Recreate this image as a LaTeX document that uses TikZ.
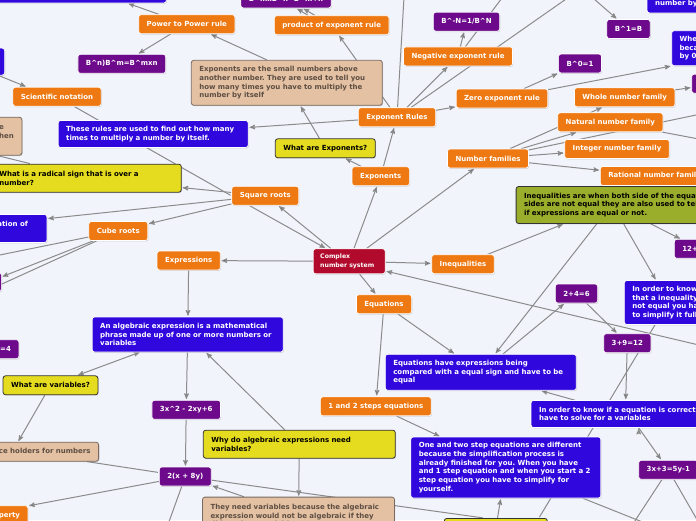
\documentclass[tikz,border=0pt]{standalone}
\usepackage{fontspec}
\setmainfont{DejaVu Sans}
\usetikzlibrary{arrows,shadows}
\definecolor{mapbg}{HTML}{F2F4FC}
\definecolor{maporange}{HTML}{EE7811}
\definecolor{mapred}{HTML}{B10A2C}
\definecolor{mappurple}{HTML}{6C0A8B}
\definecolor{mapblue}{HTML}{3008DD}
\definecolor{mapyellow}{HTML}{E5DC1F}
\definecolor{mapgreen}{HTML}{9BAE2B}
\definecolor{maptan}{HTML}{E3C1A2}
\definecolor{maptanline}{HTML}{786A60}
\definecolor{maptantext}{HTML}{5E4E43}
\definecolor{mapdark}{HTML}{333333}
\definecolor{maplink}{HTML}{8B8B8B}
\newcommand{\pwr}{\textasciicircum}
\frenchspacing
\pgfdeclarelayer{bg}
\pgfdeclarelayer{links}
\pgfsetlayers{bg,links,main}

\begin{document}
\begin{tikzpicture}[x=1pt,y=-1pt,>=stealth',shorten >=1pt,
    topic/.style={rounded corners=2.5pt,font=\bfseries\fontsize{7}{8.7}\selectfont,inner xsep=8pt,inner ysep=2pt,minimum height=19pt,
        drop shadow={shadow xshift=.7pt,shadow yshift=-.9pt,opacity=.3}},
    sub/.style={topic,fill=maporange,draw=white,line width=.7pt,text=white},
    formula/.style={topic,fill=mappurple,draw=white,line width=.7pt,text=white},
    note/.style={topic,fill=mapblue,draw=white,line width=.7pt,text=white,align=left},
    ask/.style={topic,fill=mapyellow,draw=mapdark,line width=.8pt,text=black,align=left},
    memo/.style={topic,fill=maptan,draw=maptanline,line width=.8pt,text=maptantext,align=left},
    link/.style={draw=maplink,line width=1pt,->}]

    \begin{pgfonlayer}{bg}
        \fill[mapbg] (0,0) rectangle (696,520);
    \end{pgfonlayer}
    \useasboundingbox (0,0) rectangle (696,520);

    \node[topic,fill=mapred,draw=white,line width=.7pt,text=white,font=\bfseries\fontsize{6.2}{8.2}\selectfont,
        align=left,text width=58pt,inner xsep=7pt,minimum height=25pt] (complex) at (349.2,261.3) {Complex\\number system};

    \node[sub] (expo) at (380.7,176.2) {Exponents};
    \node[ask] (whatexp) at (325.3,148.3) {What are Exponents?};
    \node[memo,text width=175pt,minimum height=45pt] (expmeaning) at (286.8,82.8) {Exponents are the small numbers above\\another number. They are used to tell you\\how many times you have to multiply the\\number by itself};
    \node[sub] (rules) at (397,117.3) {Exponent Rules};
    \node[note,text width=174pt,minimum height=27pt] (rulesuse) at (153.2,134) {These rules are used to find out how many\\times to multiply a number by itself.};
    \node[sub] (product) at (331.7,25.2) {product of exponent rule};
    \node[formula,anchor=south] (productrule) at (286,8.3) {B\pwr mxB\pwr n=B\pwr m+n};
    \node[sub,anchor=west] (powerpower) at (138.3,24.2) {Power to Power rule};
    \node[formula] (powerrule) at (121.8,63.8) {B\pwr n)B\pwr m=B\pwr mxn};
    \node[note,anchor=south east,minimum width=185pt,minimum height=27pt] (topnote) at (166.7,3.3) {};
    \node[note,anchor=east,minimum width=60pt,minimum height=27pt] (leftnote) at (5,61.6) {};
    \node[sub] (scinote) at (57,96.7) {Scientific notation};
    \node[sub] (negative) at (458,56.4) {Negative exponent rule};
    \node[formula] (negrule) at (466.5,21.7) {B\pwr -N=1/B\pwr N};
    \node[formula] (onerule) at (628.5,29) {B\pwr 1=B};
    \node[sub] (zero) at (502,98.5) {Zero exponent rule};
    \node[formula] (zerorule) at (580,63.5) {B\pwr 0=1};
    \node[note,anchor=west,text width=170pt,minimum height=35pt] (zeronote) at (671.3,48.2) {When a number has a 0 exponent it is 1\\because it is divided by itself, not\\by 0};
    \node[note,anchor=south west,text width=150pt,minimum height=27pt] (bynote) at (646.7,13.3) {An exponent tells you to multiply a\\number by itself};

    \node[sub] (families) at (488,158.5) {Number families};
    \node[sub] (whole) at (624.7,97.3) {Whole number family};
    \node[sub] (natural) at (610.3,122.3) {Natural number family};
    \node[sub] (integer) at (617,149) {Integer number family};
    \node[sub,anchor=west] (rational) at (600,176) {Rational number family};
    \node[formula,anchor=west] (wholeset) at (691.3,83.7) {0,1,2,3...};

    \node[sub] (sqroots) at (265.3,195.8) {Square roots};
    \node[ask,anchor=east,text width=174pt,minimum height=28pt] (radical) at (181.7,178.2) {What is a radical sign that is over a\\number?};
    \node[memo,anchor=east,align=right,minimum height=38pt] (radicalmeaning) at (22.3,136.2) {A radical sign shows that you take the square\hspace*{10pt}\\root of the number under it. It is used when\hspace*{6pt}\\you see a root.\hspace*{60pt}};
    \node[note,anchor=east,minimum height=28pt] (cubemeaning) at (47.3,228.5) {The cube root is the inverse operation of\hspace*{11pt}\\cubing.};
    \node[sub] (cube) at (118.3,231) {Cube roots};
    \node[formula,anchor=east] (cubeex) at (1.7,282) {27};

    \node[sub] (expr) at (188.7,260.5) {Expressions};
    \node[note,text width=175pt,minimum height=35pt] (algebraic) at (187.7,334.5) {An algebraic expression is a mathematical\\phrase made up of one or more numbers or\\variables};
    \node[ask] (whatvars) at (50.5,385.3) {What are variables?};
    \node[memo,anchor=east] (holders) at (99,451.7) {Variables are place holders for numbers};
    \node[formula] (trinomial) at (186.2,409.8) {3x\pwr 2 - 2xy+6};
    \node[formula] (factored) at (185.3,476.5) {2(x + 8y)};
    \node[ask,text width=176pt,minimum height=28pt] (whyvars) at (299.3,444.2) {Why do algebraic expressions need\\variables?};
    \node[memo,anchor=north,text width=176pt,minimum height=37pt] (needvars) at (298.5,496.7) {They need variables because the algebraic\\expression would not be algebraic if they\\did not have variables.};
    \node[sub,anchor=north east] (distributive) at (28.3,505.3) {Distributive property};
    \node[formula,anchor=east] (simpleeq) at (19.3,349.2) {2+2=4};

    \node[sub] (ineq) at (463,264.2) {Inequalities};
    \node[ask,fill=mapgreen,anchor=west,text width=228pt,minimum height=37pt] (ineqmeaning) at (515.7,205) {Inequalities are when both side of the equation\\sides are not equal they are also used to tell\\if expressions are equal or not.};
    \node[formula,anchor=west] (ineqex) at (674,248.8) {12+3>10};
    \node[note,anchor=west,text width=150pt,minimum height=44pt] (ineqsolve) at (624,302.5) {In order to know if\\that a inequality is equal or\\not equal you have\\to simplify it fully.};
    \node[sub] (eqs) at (384,304.2) {Equations};
    \node[note,text width=175pt,minimum height=36pt] (eqmeaning) at (480.8,372.3) {Equations have expressions being\\compared with a equal sign and have to be\\equal};
    \node[formula] (sumsix) at (576.5,293.5) {2+4=6};
    \node[formula] (sumtwelve) at (627.3,343.2) {3+9=12};
    \node[note,anchor=west,text width=205pt,minimum height=27pt] (eqsolve) at (530.7,414) {In order to know if a equation is correct you\\have to solve for a variables};
    \node[formula] (twovars) at (668.3,469.8) {3x+3=5y-1};
    \node[sub] (steps) at (375.8,406.3) {1 and 2 steps equations};
    \node[note,text width=174pt,minimum height=61pt] (stepsmeaning) at (505.8,467.5) {One and two step equations are different\\because the simplification process is\\already finished for you. When you have\\and 1 step equation and when you start a 2\\step equation you have to simplify for\\yourself.};
    \node[ask,anchor=north,minimum width=103pt,minimum height=20pt] (stepsask) at (495.8,518) {};

    \coordinate (offtop1) at (405,-20);
    \coordinate (offtop2) at (579,-10);
    \coordinate (offtop3) at (508,-10);
    \coordinate (offtop4) at (586,-8);
    \coordinate (offright1) at (720,350);
    \coordinate (offright2) at (720,110);
    \coordinate (offright3) at (720,143);
    \coordinate (offleft1) at (-20,68);
    \coordinate (offleft2) at (-20,259);
    \coordinate (offleft3) at (-20,294);
    \coordinate (offbot1) at (629,530);
    \coordinate (offbot2) at (703,530);
    \coordinate (offbot3) at (655,527);
    \coordinate (offbot4) at (166,530);

    \begin{pgfonlayer}{links}
    \path[link]
        (sqroots.212) edge (complex.151)
        (complex.145) edge (sqroots.323)
        (complex) edge (expo)
                  edge (families)
                  edge (ineq)
                  edge (eqs)
                  edge (expr)
        (offright1) edge (complex.-15)
        (expo) edge (rules)
               edge (whatexp)
        (whatexp) edge (expmeaning)
        ([xshift=76pt]expmeaning.north west) edge ([xshift=72pt]powerpower.south west)
        (powerpower) edge (powerrule)
                     edge ([xshift=-39pt]topnote.south east)
        (product) edge (productrule)
        ([xshift=34pt]product.north west) edge ([xshift=56pt]productrule.south west)
        (rules) edge (product)
                edge (rulesuse)
                edge (offtop1)
                edge (negative)
                edge (offtop2)
                edge (zero)
        (negative) edge (negrule)
                   edge (offtop3)
        (offtop4) edge (onerule)
        (zero) edge (zerorule)
               edge (zeronote.south west)
        (whole) edge (wholeset)
        (families) edge (whole)
                   edge (natural)
                   edge (integer)
                   edge (rational)
                   edge (offright2)
        (natural) edge (offright3)
        (offleft1) edge ([xshift=14pt]scinote.north west)
        (scinote) edge[-] (sqroots.west)
        (sqroots) edge (radical)
                  edge (cubemeaning)
                  edge (cube)
        (radicalmeaning) edge[-] ([xshift=40pt]radical.north west)
        (cube) edge[-] (offleft2)
               edge (cubeex)
               edge[-] (offleft3)
        (expr) edge (algebraic)
        (algebraic) edge[<->] (whatvars)
        (whyvars) edge (algebraic)
                  edge (needvars)
        (algebraic) edge (trinomial)
        (trinomial) edge (factored)
        (whatvars) edge ([xshift=-81pt]holders.north east)
        ([xshift=-12pt]holders.south east) edge[-] (factored)
        (factored) edge (distributive)
                   edge (offbot4)
                   edge[-] ([xshift=40pt]stepsask.north west)
        (needvars) edge (factored)
        (ineq) edge ([xshift=48pt]ineqmeaning.south west)
        ([xshift=135pt]ineqmeaning.south west) edge (ineqex)
        ([xshift=108pt]ineqmeaning.south west) edge ([xshift=32pt]ineqsolve.north west)
        ([xshift=81pt]ineqmeaning.south west) edge (eqmeaning)
        (eqmeaning) edge (sumsix)
        (sumsix) edge (sumtwelve)
        ([xshift=31pt]ineqsolve.south west) edge[-] ([xshift=95pt]stepsask.north west)
        (sumtwelve) edge ([xshift=95pt]eqsolve.north west)
        ([xshift=44pt]eqsolve.north west) edge ([xshift=60pt]eqmeaning.south)
        ([xshift=108pt]eqsolve.south west) edge (twovars)
        (twovars) edge (offbot1)
                  edge (offbot2)
        (eqs) edge (eqmeaning)
              edge (steps)
        (steps) edge (stepsmeaning)
        (stepsask) edge (stepsmeaning)
        (stepsmeaning) edge (offbot3)
        ;
    \end{pgfonlayer}
\end{tikzpicture}
\end{document}
